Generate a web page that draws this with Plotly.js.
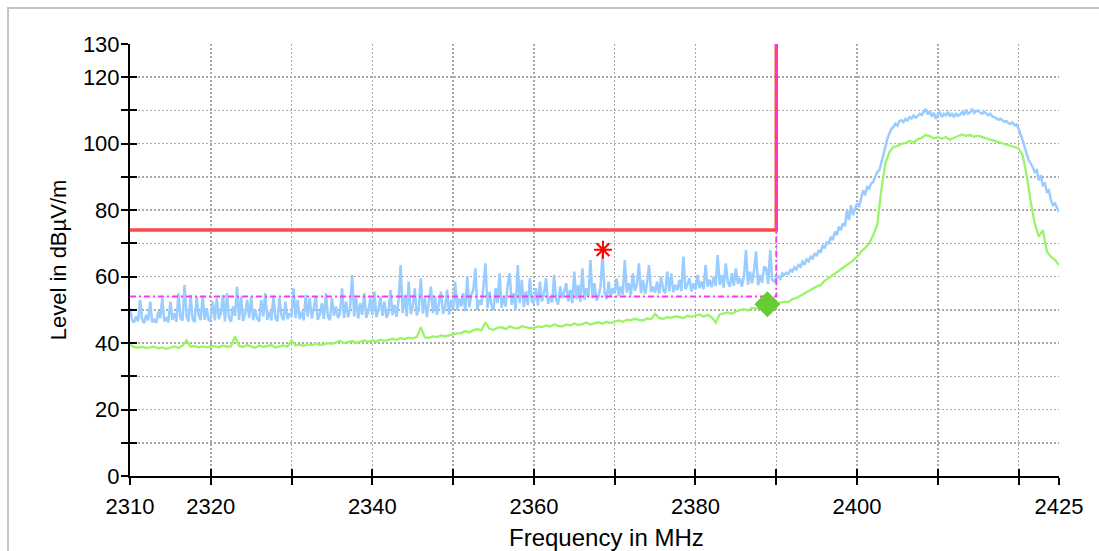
<!DOCTYPE html>
<html>
<head>
<meta charset="utf-8">
<script src="https://cdn.plot.ly/plotly-3.0.1.min.js"></script>
<style>
html,body{margin:0;padding:0;background:#fff;overflow:hidden;}
#frame{position:absolute;left:7px;top:7px;width:1300px;height:800px;border-left:2px solid #c4c4c4;border-top:2px solid #c4c4c4;}
#chart{position:absolute;left:0;top:0;width:1099px;height:551px;}
</style>
</head>
<body>
<div id="frame"></div>
<div id="chart"></div>
<script>
// Sweep grid
const FREQ_START = 2310;
const PEAK_STEP = 0.25;
const AVG_STEP = 0.5;

// Peak trace (blue), one row per MHz, 0.25 MHz spacing
const peakLevel = [
 50.5,47.0,46.2,48.0, 46.5,53.0,47.2,46.0, 48.5,46.8,52.5,46.3, 47.0,46.1,49.5,47.5, 53.5,46.5,47.8,46.2,
 52.5,47.0,49.0,46.4, 55.0,47.5,46.8,57.5, 48.0,46.5,54.5,47.2, 46.3,53.8,48.5,46.9, 54.2,47.0,50.5,46.6,
 47.5,52.5,46.8,53.5, 47.2,49.0,54.5,46.5, 55.0,47.8,46.4,51.0, 48.2,57.0,47.0,54.0, 46.7,48.8,53.0,47.5,
 54.0,46.9,50.0,47.3, 46.5,53.0,48.0,55.0, 47.0,49.5,46.8,54.2, 47.6,46.5,53.5,48.3, 46.9,52.5,47.2,49.0,
 48.0,56.5,47.5,53.0, 47.2,49.5,46.8,54.5, 48.0,53.5,47.4,50.5, 54.0,47.0,48.6,52.0, 47.3,55.0,47.9,46.9,
 53.5,48.2,51.0,47.5, 49.0,56.5,47.6,52.5, 47.8,50.5,60.5,48.0, 53.5,47.4,52.0,48.5, 55.0,47.6,49.5,53.5,
 48.5,55.5,47.8,50.0, 54.0,48.2,52.5,47.6, 49.0,56.0,48.4,51.5, 47.9,53.0,63.5,49.0, 54.5,48.0,58.5,48.7,
 51.0,56.5,48.3,50.5, 59.5,48.9,53.5,47.8, 52.0,57.0,49.0,54.0, 48.5,52.5,55.5,48.8, 50.5,56.0,48.6,53.0,
 50.5,58.5,49.8,53.5, 51.0,55.0,49.6,60.0, 50.8,54.5,56.0,62.5, 50.0,53.0,51.5,57.0, 64.0,50.5,55.5,51.2,
 49.9,56.5,52.0,61.0, 50.6,54.0,51.0,57.5, 61.0,51.5,55.0,50.2, 63.5,52.0,59.0,50.8, 55.5,51.4,59.5,52.5,
 52.0,56.5,51.3,58.5, 52.5,55.0,59.5,51.8, 54.0,52.2,60.5,53.0, 51.6,57.0,53.5,55.5, 58.0,52.5,56.0,52.0,
 61.5,53.2,57.5,52.4, 62.5,53.0,56.5,54.0, 65.0,53.5,58.0,52.8, 54.0,57.0,67.0,55.0, 53.2,58.5,53.8,56.5,
 55.0,59.5,54.2,57.0, 54.6,65.0,55.2,58.0, 54.4,61.0,55.8,57.5, 64.0,55.0,59.0,54.8, 58.0,63.5,55.4,57.0,
 55.2,58.5,54.9,60.0, 56.0,55.0,61.5,55.6, 61.0,55.3,57.5,56.0, 59.0,55.7,66.0,56.2, 57.5,59.5,55.5,58.0,
 56.0,60.5,56.5,58.5, 56.2,63.5,57.0,59.0, 56.8,60.0,57.2,66.5, 57.5,60.5,56.6,64.0, 58.5,56.9,61.0,57.2,
 62.5,57.8,59.5,57.0, 60.0,68.0,57.6,61.5, 58.0,62.0,67.5,57.4, 60.5,58.2,63.0,62.5, 57.8,68.0,59.0,58.5,
 59.5,60.0,59.3,61.0, 60.5,61.2,60.8,62.0, 61.5,62.8,62.2,63.5, 63.0,64.5,63.8,65.2, 64.6,66.0,65.5,67.0,
 66.2,68.0,67.2,69.5, 68.5,70.5,69.8,72.0, 71.0,73.5,72.5,75.0, 74.0,76.0,75.2,80.0, 77.0,81.5,78.5,80.5,
 82.0,81.0,83.5,86.0, 84.5,87.0,86.5,88.0, 88.5,90.0,91.5,92.0, 94.0,96.5,99.0,101.5, 103.0,104.5,105.0,106.0,
 105.5,106.8,107.0,106.5, 107.5,107.0,108.0,107.6, 108.5,107.8,108.3,109.0, 108.6,109.5,110.5,108.8, 109.8,108.2,109.3,107.5,
 108.8,109.4,108.0,109.0, 108.5,109.6,108.2,109.2, 108.0,109.0,108.4,108.8, 109.5,108.6,110.2,109.0, 109.4,110.5,109.2,109.8,
 110.0,109.3,109.0,109.6, 109.2,108.6,109.0,108.2, 108.0,107.6,107.2,107.5, 107.0,106.6,106.8,106.2, 106.0,106.4,105.5,105.8,
 104.5,103.0,101.0,99.0, 97.0,95.0,94.0,93.0, 91.5,92.0,89.0,90.5, 87.5,88.0,85.5,86.0, 83.0,81.5,82.0,80.5,
 79.5
];

// Average trace (green), 0.5 MHz spacing
const avgLevel = [
 39.5,38.8, 38.6,38.9, 38.5,38.7, 38.9,38.4, 38.7,38.3, 38.6,39.0, 38.5,39.2, 40.8,38.9, 39.1,38.7, 39.0,38.8,
 38.9,39.1, 38.7,39.3, 38.9,39.0, 42.0,39.2, 38.8,39.4, 39.0,38.6, 39.3,38.9, 39.1,39.4, 38.7,39.0, 39.3,38.9,
 40.8,39.3, 39.5,39.2, 39.6,39.4, 39.8,39.5, 39.6,40.0, 39.8,40.2, 40.6,40.0, 40.3,40.6, 40.1,40.5, 40.8,40.4,
 40.8,40.5, 41.0,40.7, 40.9,41.3, 41.0,41.5, 41.2,41.6, 41.4,41.8, 44.8,41.7, 41.6,42.0, 41.8,42.3, 42.0,42.4,
 42.6,42.9, 43.0,43.6, 43.2,43.9, 44.2,43.8, 46.2,44.3, 44.0,44.6, 44.8,44.2, 45.0,44.6, 44.4,45.1, 44.8,44.5,
 44.6,45.0, 44.8,45.3, 45.0,45.6, 45.2,45.0, 45.6,45.3, 45.9,45.4, 45.7,46.2, 45.6,46.0, 46.3,45.8, 46.4,46.0,
 46.5,46.8, 46.4,47.0, 46.9,47.3, 47.0,46.8, 47.4,47.2, 48.8,47.5, 47.3,47.8, 47.6,48.0, 47.9,47.5, 48.2,47.9,
 48.3,48.6, 48.0,48.5, 47.8,46.2, 48.6,48.9, 49.2,48.8, 49.5,49.9, 50.2,49.8, 50.6,50.3, 51.0,50.5, 51.4,51.8,
 51.8,52.2, 52.5,52.4, 53.2,53.6, 54.3,54.8, 55.5,56.4, 57.0,57.5, 58.8,59.6, 60.5,61.2, 62.3,63.0, 64.0,64.8,
 66.0,67.5, 68.6,70.0, 72.5,75.5, 86.0,94.0, 97.5,99.0, 99.3,100.0, 100.2,100.8, 100.4,101.3, 101.8,102.6, 102.3,101.6,
 102.0,101.5, 102.0,101.2, 101.8,102.2, 102.8,102.4, 102.6,102.1, 102.4,102.0, 101.6,101.2, 100.8,100.5, 100.2,99.7, 99.4,98.8,
 98.6,96.5, 90.5,82.5, 76.0,72.0, 74.0,67.5, 66.0,65.0,
 63.5
];

// Limit lines
const limitFreq = [2310, 2390, 2390];
const peakLimit = [74, 74, 130];
const avgLimit = [54, 54, 130];

// Markers
const peakMarkerFreq = [2368.55];
const peakMarkerLevel = [68.1];
const avgMarkerFreq = [2388.9];
const avgMarkerLevel = [51.7];

// Axis ticks
const xTickVals = [2310,2320,2330,2340,2350,2360,2370,2380,2390,2400,2410,2420,2425];
const xTickText = ['2310','2320','','2340','','2360','','2380','','2400','','','2425'];
const yTickVals = [0,10,20,30,40,50,60,70,80,90,100,110,120,130];
const yTickText = ['0','','20','','40','','60','','80','','100','','120','130'];

const xTitle = 'Frequency in MHz';
const yTitle = 'Level in dBµV/m';

const peakFreq = peakLevel.map((_, i) => FREQ_START + i * PEAK_STEP);
const avgFreq = avgLevel.map((_, i) => FREQ_START + i * AVG_STEP);

const FONT = 'Liberation Sans, Arial, Helvetica, sans-serif';

const traces = [
  {x: peakFreq, y: peakLevel, mode: 'lines', line: {color: '#99ccff', width: 2.5}, hoverinfo: 'skip', showlegend: false},
  {x: avgFreq, y: avgLevel, mode: 'lines', line: {color: '#99f566', width: 2.3}, hoverinfo: 'skip', showlegend: false},
  {x: limitFreq, y: peakLimit, mode: 'lines', line: {color: '#ff4848', width: 3.5}, hoverinfo: 'skip', showlegend: false},
  {x: limitFreq, y: avgLimit, mode: 'lines', line: {color: '#ff33ff', width: 2, dash: '6px,3px,2px,3px'}, hoverinfo: 'skip', showlegend: false},
  {x: peakMarkerFreq, y: peakMarkerLevel, mode: 'markers', marker: {symbol: 'asterisk-open', size: 15, color: '#ff0000', line: {color: '#ff0000', width: 2}}, hoverinfo: 'skip', showlegend: false},
  {x: avgMarkerFreq, y: avgMarkerLevel, mode: 'markers', marker: {symbol: 'diamond', size: 20, color: '#66cc33', line: {width: 0}}, hoverinfo: 'skip', showlegend: false},
  {x: [2300], y: [-10], xaxis: 'x2', yaxis: 'y2', mode: 'markers', marker: {opacity: 0}, hoverinfo: 'skip', showlegend: false}
];

const common = {
  tickmode: 'array', tickcolor: '#000', tickwidth: 2, ticklen: 7,
  zeroline: false, fixedrange: true
};

const layout = {
  width: 1099, height: 551,
  margin: {l: 130, r: 40, t: 44, b: 75},
  paper_bgcolor: 'rgba(0,0,0,0)', plot_bgcolor: 'rgba(0,0,0,0)',
  font: {family: FONT, color: '#000'},
  showlegend: false,
  xaxis: Object.assign({}, common, {
    range: [2310, 2425], tickvals: xTickVals, ticktext: xTickText, ticks: 'outside',
    showline: true, linecolor: '#000', linewidth: 2,
    showgrid: true, gridcolor: '#aaaaaa', gridwidth: 1.5, griddash: '2px,2px',
    tickfont: {family: FONT, size: 22, color: '#000'}, ticklabelstandoff: 3
  }),
  yaxis: Object.assign({}, common, {
    range: [0, 130], tickvals: yTickVals, ticktext: yTickText, ticks: 'outside',
    showline: true, linecolor: '#000', linewidth: 2,
    showgrid: true, gridcolor: '#aaaaaa', gridwidth: 1.5, griddash: '2px,2px',
    tickfont: {family: FONT, size: 22, color: '#000'}, ticklabelstandoff: -3,
    title: {text: yTitle, font: {family: FONT, size: 22, color: '#000'}, standoff: 10}
  }),
  xaxis2: Object.assign({}, common, {
    range: [2310, 2425], tickvals: xTickVals, ticks: 'inside', showticklabels: false,
    showgrid: false, showline: false, overlaying: 'x', anchor: 'y2', side: 'bottom'
  }),
  yaxis2: Object.assign({}, common, {
    range: [0, 130], tickvals: yTickVals, ticks: 'inside', showticklabels: false,
    showgrid: false, showline: false, overlaying: 'y', anchor: 'x2', side: 'left'
  }),
  annotations: [{
    text: xTitle, xref: 'paper', yref: 'paper', x: 0.5, y: 0, xshift: 12, yshift: -61,
    xanchor: 'center', yanchor: 'middle', showarrow: false,
    font: {family: FONT, size: 24, color: '#000'}
  }]
};

Plotly.newPlot('chart', traces, layout, {staticPlot: true, displayModeBar: false});
</script>
</body>
</html>
